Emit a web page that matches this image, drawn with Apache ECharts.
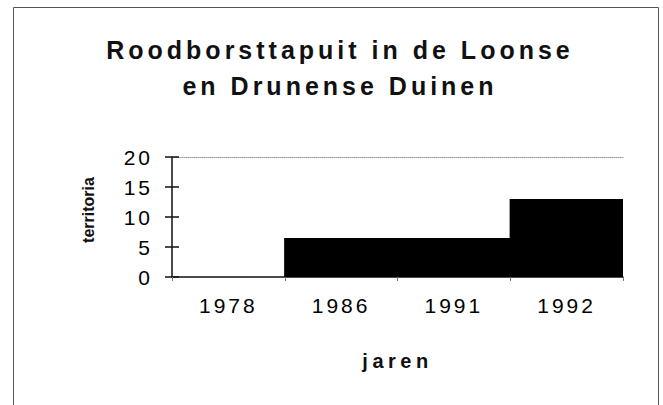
<!DOCTYPE html>
<html>
<head>
<meta charset="utf-8">
<script src="https://cdn.jsdelivr.net/npm/echarts@6/dist/echarts.min.js"></script>
<style>
  html, body { margin: 0; padding: 0; background: #fff; }
  #chart { width: 663px; height: 405px; }
  /* oude Excel-opmaak: ruim gespatieerde letters */
  #chart text[style*="25px"] { letter-spacing: 4px; }
  #chart text[style*="21px"] { letter-spacing: 3px; }
  #chart text[style*="20px"] { letter-spacing: 4.5px; }
</style>
</head>
<body>
<div id="chart"></div>
<script>
// jaren en aantal territoria
const years = ['1978', '1986', '1991', '1992'];
const territoria = [0, 6.5, 6.5, 13];
const yTicks = [0, 5, 10, 15, 20];

const chart = echarts.init(document.getElementById('chart'), null, { renderer: 'svg' });

const font = "'Liberation Sans', Arial, sans-serif";

const option = {
  backgroundColor: '#fff',
  animation: false,
  graphic: [{
    type: 'rect',
    shape: { x: 13.5, y: 7.5, width: 645, height: 420 },
    style: { fill: 'none', stroke: '#555', lineWidth: 1 },
    silent: true
  }],
  title: {
    text: 'Roodborsttapuit in de Loonse\nen Drunense Duinen',
    left: 335,
    top: 27,
    textAlign: 'center',
    textStyle: {
      fontFamily: font,
      fontSize: 25,
      fontWeight: 'bold',
      color: '#111',
      lineHeight: 36
    }
  },
  grid: { left: 172, right: 40, top: 157, bottom: 128 },
  xAxis: [{
    type: 'category',
    data: years,
    name: 'jaren',
    nameLocation: 'middle',
    nameGap: 74,
    nameTextStyle: { fontFamily: font, fontSize: 20, fontWeight: 'bold', color: '#111' },
    axisLine: { lineStyle: { color: '#111', width: 1.5 } },
    axisTick: { show: true, length: 4, lineStyle: { color: '#777' } },
    axisLabel: { fontFamily: font, fontSize: 21, color: '#000', margin: 18 }
  }, {
    type: 'category',
    data: years,
    position: 'top',
    axisLine: { show: true, onZero: false, lineStyle: { color: '#999', type: 'dotted' } },
    axisTick: { show: false },
    axisLabel: { show: false }
  }],
  yAxis: [{
    type: 'value',
    min: yTicks[0],
    max: yTicks[yTicks.length - 1],
    interval: 5,
    name: 'territoria',
    nameLocation: 'middle',
    nameGap: 76,
    nameTextStyle: { fontFamily: font, fontSize: 16, fontWeight: 'bold', color: '#111', padding: [0, 0, 0, 14] },
    axisLine: { show: true, lineStyle: { color: '#111', width: 1.5 } },
    axisTick: { show: true, length: 7, lineStyle: { color: '#111', width: 1.5 } },
    axisLabel: { fontFamily: font, fontSize: 21, color: '#000', margin: 19 },
    splitLine: { show: false }
  }, {
    type: 'value',
    min: yTicks[0],
    max: yTicks[yTicks.length - 1],
    interval: 5,
    position: 'left',
    axisLine: { show: false },
    axisTick: { show: true, inside: true, length: 7, lineStyle: { color: '#111', width: 1.5 } },
    axisLabel: { show: false },
    splitLine: { show: false }
  }],
  series: [{
    type: 'bar',
    data: territoria,
    barWidth: 114,
    itemStyle: { color: '#000' }
  }]
};

chart.setOption(option);
</script>
</body>
</html>
